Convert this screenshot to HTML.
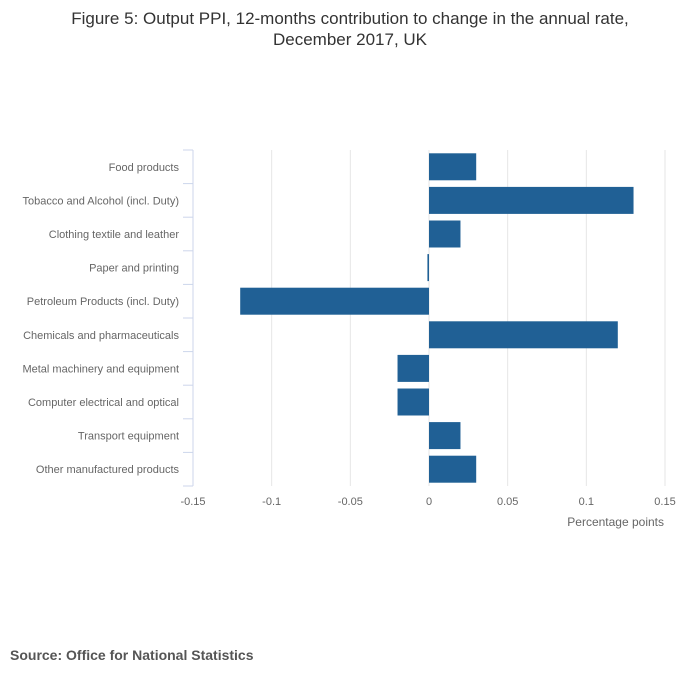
<!DOCTYPE html>
<html><head><meta charset="utf-8"><style>
body{margin:0;background:#fff;font-family:"Liberation Sans",sans-serif;}
</style></head><body>
<svg width="700" height="682" style="display:block">
<text x="350" y="24" text-anchor="middle" font-size="17" fill="#333">Figure 5: Output PPI, 12-months contribution to change in the annual rate,</text>
<text x="350" y="45" text-anchor="middle" font-size="17" fill="#333">December 2017, UK</text>
<g id="grid"></g><g id="bars"></g><g id="yax"></g><g id="xax"></g>
<text x="664" y="526" text-anchor="end" font-size="12" fill="#666">Percentage points</text>
<text x="10" y="660" font-size="14" font-weight="bold" fill="#555">Source: Office for National Statistics</text>
</svg>
<script>
const categories=["Food products","Tobacco and Alcohol (incl. Duty)","Clothing textile and leather","Paper and printing","Petroleum Products (incl. Duty)","Chemicals and pharmaceuticals","Metal machinery and equipment","Computer electrical and optical","Transport equipment","Other manufactured products"];
const values=[0.03,0.13,0.02,-0.001,-0.12,0.12,-0.02,-0.02,0.02,0.03];
const ticks=[-0.15,-0.1,-0.05,0,0.05,0.1,0.15];
const tickLabels=["-0.15","-0.1","-0.05","0","0.05","0.1","0.15"];
const NS="http://www.w3.org/2000/svg";
const x0=193,x1=665,plotTop=150,plotBot=486;
const xs=v=>x0+(v+0.15)/0.3*(x1-x0);
const band=(plotBot-plotTop)/categories.length;
function mk(t,a,p){const e=document.createElementNS(NS,t);for(const k in a)e.setAttribute(k,a[k]);document.getElementById(p).appendChild(e);return e;}
ticks.forEach((t,i)=>{
 if(i>0){const g=mk('line',{x1:xs(t),x2:xs(t),y1:plotTop,y2:plotBot,stroke:'#e6e6e6'},'grid');
 
 }
 const l=mk('text',{x:xs(t),y:505,'text-anchor':'middle','font-size':11,fill:'#666'},'xax');l.textContent=tickLabels[i];
 
 
});
const ax=mk('line',{x1:x0,x2:x0,y1:plotTop,y2:plotBot,stroke:'#ccd6eb'},'yax');


for(let i=0;i<=categories.length;i++){const y=plotTop+i*band;const t=mk('line',{x1:183,x2:x0,y1:y,y2:y,stroke:'#ccd6eb'},'yax');
 
 }
categories.forEach((c,i)=>{
 const cy=plotTop+band*(i+0.5);
 const l=mk('text',{x:179,y:cy+4,'text-anchor':'end','font-size':11,fill:'#666'},'yax');l.textContent=c;
 
 
 const v=values[i];const a=xs(Math.min(0,v)),b=xs(Math.max(0,v));
 const r=mk('rect',{x:a,y:cy-13.5,width:Math.max(1,b-a),height:27,fill:'#206095'},'bars');
 
 
});
</script>
</body></html>
